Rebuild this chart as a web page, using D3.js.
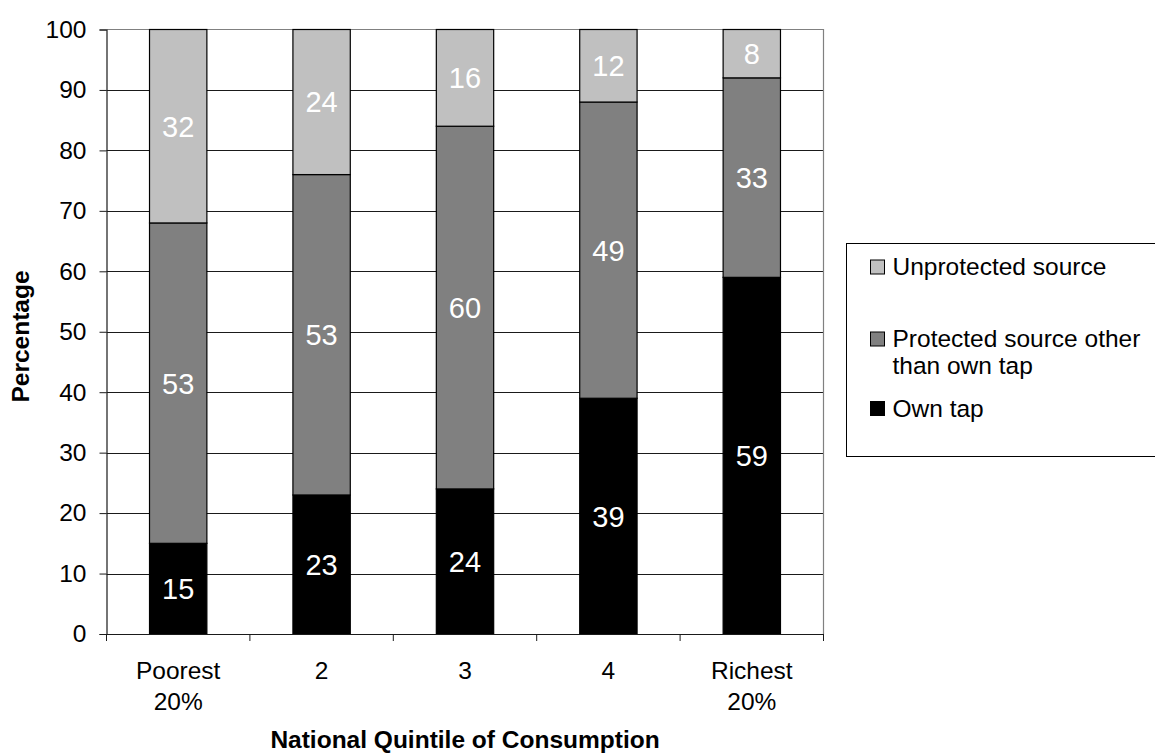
<!DOCTYPE html>
<html>
<head>
<meta charset="utf-8">
<script src="https://cdn.jsdelivr.net/npm/d3@7/dist/d3.min.js"></script>
<style>
  html, body { margin: 0; padding: 0; background: #fff; }
  svg { display: block; font-family: Arial, "Liberation Sans", sans-serif; }
</style>
</head>
<body>
<svg id="chart" width="1155" height="753"></svg>
<script>
// Access to water source by national consumption quintile (percent of households)
const categories = [["Poorest", "20%"], ["2"], ["3"], ["4"], ["Richest", "20%"]];
const ownTap = [15, 23, 24, 39, 59];
const protectedOther = [53, 53, 60, 49, 33];
const unprotected = [32, 24, 16, 12, 8];
const yTicks = [0, 10, 20, 30, 40, 50, 60, 70, 80, 90, 100];

const series = [
  { name: ["Own tap"], values: ownTap, fill: "#000000" },
  { name: ["Protected source other", "than own tap"], values: protectedOther, fill: "#808080" },
  { name: ["Unprotected source"], values: unprotected, fill: "#c0c0c0" }
];

const FONT = "Arial, 'Liberation Sans', sans-serif";
const FS = "24.5px";
const svg = d3.select("#chart");
const plot = { left: 106.5, right: 823.5, top: 29.5, bottom: 634 };

const keys = categories.map((c, i) => i);
const x = d3.scaleBand().domain(keys).range([plot.left, plot.right]).paddingInner(0).paddingOuter(0);
const y = d3.scaleLinear().domain([0, 100]).range([plot.bottom, plot.top]);
const barW = x.bandwidth() * 0.4;

// gridlines
svg.append("g").selectAll("line").data(yTicks.filter(t => t > 0 && t < 100)).join("line")
  .attr("x1", plot.left).attr("x2", plot.right)
  .attr("y1", d => Math.round(y(d)) + 0.5).attr("y2", d => Math.round(y(d)) + 0.5)
  .attr("stroke", "#1a1a1a").attr("stroke-width", 1);

// plot frame (top and right)
svg.append("path")
  .attr("d", `M${plot.left},${plot.top}H${plot.right}V${plot.bottom}`)
  .attr("fill", "none").attr("stroke", "#808080").attr("stroke-width", 1.2);

// stacked bars
const stackData = keys.map(i => {
  const o = { i };
  series.forEach((s, k) => o[k] = s.values[i]);
  return o;
});
const stacked = d3.stack().keys(series.map((s, k) => k))(stackData);

const layers = svg.append("g").selectAll("g").data(stacked).join("g")
  .attr("fill", (d, k) => series[k].fill);

layers.selectAll("rect").data(d => d).join("rect")
  .attr("x", d => x(d.data.i) + (x.bandwidth() - barW) / 2)
  .attr("width", barW)
  .attr("y", d => y(d[1]))
  .attr("height", d => y(d[0]) - y(d[1]))
  .attr("stroke", "#000").attr("stroke-width", 1.2);

layers.selectAll("text").data(d => d).join("text")
  .attr("x", d => x(d.data.i) + x.bandwidth() / 2)
  .attr("y", d => y((d[0] + d[1]) / 2))
  .attr("dy", "0.36em")
  .attr("text-anchor", "middle")
  .attr("fill", "#fff")
  .attr("font-size", 29)
  .text(d => d[1] - d[0]);

// y axis
const yAxis = svg.append("g").attr("transform", `translate(${plot.left},0)`)
  .call(d3.axisLeft(y).tickValues(yTicks).tickSize(7).tickPadding(13).tickFormat(d3.format("d")));
yAxis.attr("font-size", null).attr("font-family", null);
yAxis.select(".domain").attr("stroke", "#1a1a1a").attr("stroke-width", 1.2);
yAxis.selectAll(".tick line").attr("stroke", "#1a1a1a");
yAxis.selectAll("text").style("font-size", FS).attr("fill", "#000").style("font-family", FONT);

// x axis
const xAxisG = svg.append("g").attr("transform", `translate(0,${plot.bottom})`);
xAxisG.append("line").attr("x1", plot.left).attr("x2", plot.right).attr("y1", 0.5).attr("y2", 0.5)
  .attr("stroke", "#1a1a1a").attr("stroke-width", 1.2);
const bounds = keys.map(i => x(i)).concat([plot.right]);
xAxisG.selectAll("line.tk").data(bounds).join("line").attr("class", "tk")
  .attr("x1", d => d).attr("x2", d => d).attr("y1", 0).attr("y2", 7)
  .attr("stroke", "#1a1a1a");

xAxisG.selectAll("text.cat").data(keys).join("text").attr("class", "cat")
  .attr("text-anchor", "middle").style("font-size", FS).attr("fill", "#000")
  .attr("transform", i => `translate(${x(i) + x.bandwidth() / 2},0)`)
  .selectAll("tspan").data(i => categories[i]).join("tspan")
  .attr("x", 0).attr("y", (d, j) => 44.5 + j * 31)
  .text(d => d);

// axis titles
svg.append("text")
  .attr("x", (plot.left + plot.right) / 2).attr("y", 747.5)
  .attr("text-anchor", "middle").style("font-size", FS).attr("font-weight", "bold")
  .text("National Quintile of Consumption");

svg.append("text")
  .attr("transform", `translate(29,${336.5}) rotate(-90)`)
  .attr("text-anchor", "middle").style("font-size", FS).attr("font-weight", "bold")
  .text("Percentage");

// legend
const legend = svg.append("g");
legend.append("rect")
  .attr("x", 846.5).attr("y", 243.5).attr("width", 330).attr("height", 213)
  .attr("fill", "#fff").attr("stroke", "#000").attr("stroke-width", 1);

const legendItems = [
  { s: series[2], base: 275 },
  { s: series[1], base: 347 },
  { s: series[0], base: 416.5 }
];
legendItems.forEach(it => {
  legend.append("rect")
    .attr("x", 870.5).attr("y", it.base - 15).attr("width", 14).attr("height", 14)
    .attr("fill", it.s.fill).attr("stroke", "#000").attr("stroke-width", 1);
  const t = legend.append("text").style("font-size", FS).attr("fill", "#000");
  it.s.name.forEach((line, j) => {
    t.append("tspan").attr("x", 892.5).attr("y", it.base + j * 26.5).text(line);
  });
});
</script>
</body>
</html>
